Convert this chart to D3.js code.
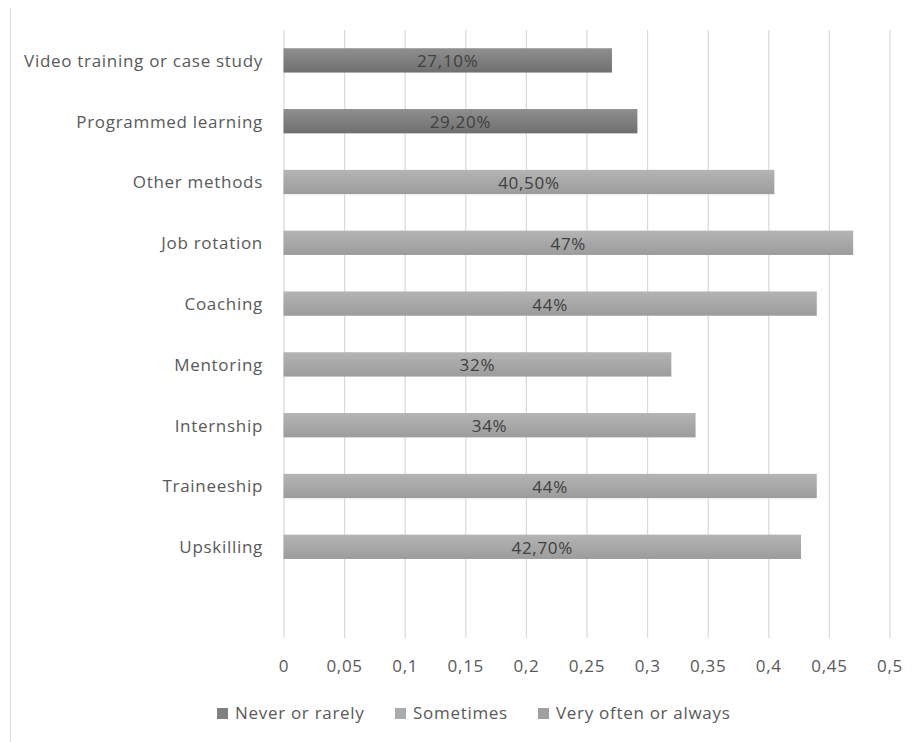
<!DOCTYPE html>
<html>
<head>
<meta charset="utf-8">
<script src="https://cdn.jsdelivr.net/npm/d3@7"></script>
<style>
  html, body { margin: 0; padding: 0; background: #fff; }
  svg { display: block; }
  text { font-family: "Open Sans", Lato, sans-serif; letter-spacing: 0.7px; }
</style>
</head>
<body>
<div id="chart"></div>
<script>
// Training methods, listed top to bottom; the trailing blank slot leaves the empty row under the last bar
const categories = [
  "Video training or case study",
  "Programmed learning",
  "Other methods",
  "Job rotation",
  "Coaching",
  "Mentoring",
  "Internship",
  "Traineeship",
  "Upskilling",
  ""
];
const values = [0.271, 0.292, 0.405, 0.47, 0.44, 0.32, 0.34, 0.44, 0.427, null];
const valueLabels = ["27,10%", "29,20%", "40,50%", "47%", "44%", "32%", "34%", "44%", "42,70%", ""];
// which series each bar belongs to
const seriesOf = [0, 0, 1, 1, 1, 1, 1, 1, 1, null];
const seriesNames = ["Never or rarely", "Sometimes", "Very often or always"];
const xTicks = [0, 0.05, 0.1, 0.15, 0.2, 0.25, 0.3, 0.35, 0.4, 0.45, 0.5];

const W = 917, H = 742;
const FONT = "'Open Sans', Lato, sans-serif";
const FS = 17;
const svg = d3.select("#chart").append("svg").attr("width", W).attr("height", H);

// bar fills: each series gets a soft vertical gradient
const gradStops = [
  ["#8f8f8f", "#6f6f6f"],
  ["#b4b4b4", "#9c9c9c"],
  ["#aaaaaa", "#939393"]
];
const legendFill = ["#808080", "#ababab", "#a0a0a0"];
const defs = svg.append("defs");
gradStops.forEach((s, i) => {
  const g = defs.append("linearGradient").attr("id", "bar-grad-" + i)
    .attr("x1", 0).attr("y1", 0).attr("x2", 0).attr("y2", 1);
  g.append("stop").attr("offset", "0%").attr("stop-color", s[0]);
  g.append("stop").attr("offset", "100%").attr("stop-color", s[1]);
});

// chart frame edge on the left
svg.append("line")
  .attr("x1", 10.5).attr("x2", 10.5).attr("y1", 8).attr("y2", H)
  .attr("stroke", "#d9d9d9").attr("stroke-width", 1);

const x = d3.scaleLinear().domain([0, 0.5]).range([283.5, 889.5]);
const y = d3.scaleBand().domain(categories).range([30, 638]).paddingInner(0.6).paddingOuter(0.3);

// vertical gridlines
const gridAxis = d3.axisBottom(x).tickValues(xTicks).tickSize(-(638 - 30)).tickFormat("");
const grid = svg.append("g").attr("transform", "translate(0,638)").call(gridAxis);
grid.select(".domain").remove();
grid.selectAll(".tick line").attr("stroke", "#d9d9d9").attr("stroke-width", 1.2);

// tick labels with decimal comma
const fmt = v => String(v).replace(".", ",");
const xAxis = d3.axisBottom(x).tickValues(xTicks).tickSize(0).tickPadding(0).tickFormat(fmt);
const ax = svg.append("g").attr("transform", "translate(0,666)").call(xAxis);
ax.select(".domain").remove();
ax.selectAll("text")
  .attr("y", 0).attr("dy", "0.35em")
  .style("font-family", FONT)
  .attr("font-size", FS).attr("fill", "#595959");

// category labels
const yAxis = d3.axisLeft(y).tickSize(0).tickPadding(0);
const ay = svg.append("g").attr("transform", "translate(263,1)").call(yAxis);
ay.select(".domain").remove();
ay.selectAll("text")
  .style("font-family", FONT)
  .attr("font-size", FS).attr("fill", "#595959");

const rows = categories.map((c, i) => ({ c, v: values[i], s: seriesOf[i], label: valueLabels[i] }))
  .filter(d => d.v != null);

// bars
svg.append("g").selectAll("rect").data(rows).join("rect")
  .attr("x", x(0))
  .attr("y", d => y(d.c))
  .attr("width", d => x(d.v) - x(0))
  .attr("height", y.bandwidth())
  .attr("fill", d => `url(#bar-grad-${d.s})`);

// value labels centred in each bar
svg.append("g").selectAll("text").data(rows).join("text")
  .attr("x", d => (x(0) + x(d.v)) / 2)
  .attr("y", d => y(d.c) + y.bandwidth() / 2 + 1)
  .attr("dy", "0.35em")
  .attr("text-anchor", "middle")
  .style("font-family", FONT)
  .attr("font-size", FS)
  .attr("fill", "#404040")
  .text(d => d.label);

// legend
const legendX = [217, 395, 538];
const lg = svg.append("g").selectAll("g").data(seriesNames).join("g")
  .attr("transform", (d, i) => `translate(${legendX[i]},713)`);
lg.append("rect").attr("x", 0).attr("y", -5).attr("width", 11).attr("height", 11)
  .attr("fill", (d, i) => legendFill[i]);
lg.append("text").attr("x", 18).attr("y", 0).attr("dy", "0.35em")
  .style("font-family", FONT)
  .attr("font-size", FS).attr("fill", "#595959")
  .text(d => d);
</script>
</body>
</html>
